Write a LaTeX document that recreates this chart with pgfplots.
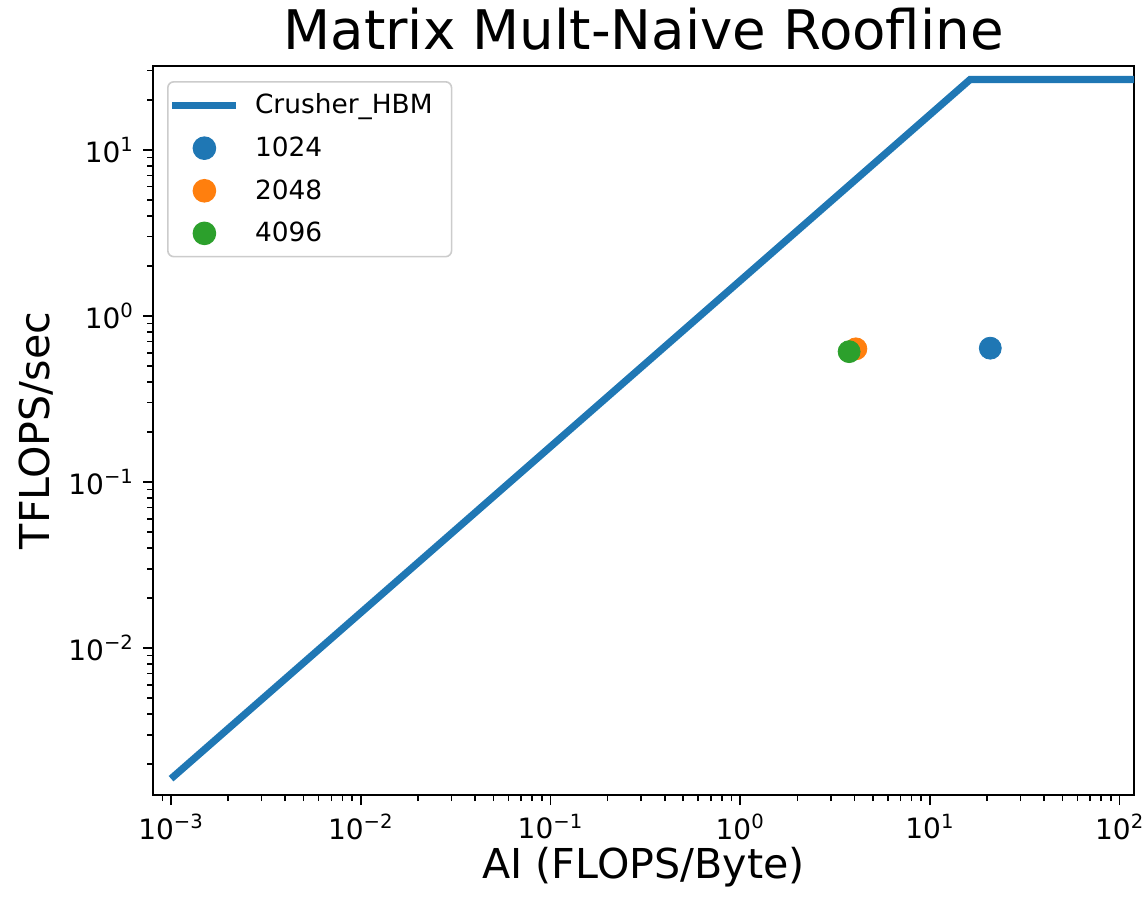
\documentclass[border=0pt]{standalone}
\usepackage{fontspec}
\setmainfont{DejaVu Sans}
\usepackage{pgfplots}
\pgfplotsset{compat=1.18}
\definecolor{tabblue}{HTML}{1F77B4}
\definecolor{taborange}{HTML}{FF7F0E}
\definecolor{tabgreen}{HTML}{2CA02C}
\newcommand{\tpow}[1]{10\textsuperscript{#1}}
\pgfplotsset{
  linelegend/.style={legend image code/.code={\draw[##1] (0pt,0pt) -- (32pt,0pt); \path (37.5pt,0pt);}},
  dotlegend/.style={legend image code/.code={\draw[##1] plot coordinates {(16pt,0pt)}; \path (0pt,0pt) (37.5pt,0pt);}},
}
\begin{document}
\begin{tikzpicture}
\begin{axis}[
  at={(0,0)}, anchor=south west,
  scale only axis, width=490.5pt, height=364.5pt,
  xmode=log, ymode=log,
  xmin=8.03e-4, xmax=119, ymin=1.3e-3, ymax=32,
  xtick={1e-3,1e-2,1e-1,1,10,100},
  xticklabels={\tpow{−3},\tpow{−2},\tpow{−1},\tpow{0},\tpow{1},\tpow{2}},
  ytick={1e-2,1e-1,1,10},
  yticklabels={\tpow{−2},\tpow{−1},\tpow{0},\tpow{1}},
  minor xtick={8e-4,9e-4,2e-3,3e-3,4e-3,5e-3,6e-3,7e-3,8e-3,9e-3,2e-2,3e-2,4e-2,5e-2,6e-2,7e-2,8e-2,9e-2,0.2,0.3,0.4,0.5,0.6,0.7,0.8,0.9,2,3,4,5,6,7,8,9,20,30,40,50,60,70,80,90},
  minor ytick={2e-3,3e-3,4e-3,5e-3,6e-3,7e-3,8e-3,9e-3,2e-2,3e-2,4e-2,5e-2,6e-2,7e-2,8e-2,9e-2,0.2,0.3,0.4,0.5,0.6,0.7,0.8,0.9,2,3,4,5,6,7,8,9,20,30},
  tick align=outside, tick pos=left,
  major tick length=5pt, minor tick length=3pt,
  every tick/.style={black, line width=0.8pt},
  axis line style={line width=0.9pt},
  ticklabel style={font=\fontsize{14}{16}\selectfont},
  xticklabel style={yshift=-1pt},
  yticklabel style={xshift=-1pt},
  legend cell align=left,
  legend style={at={(0.0143,0.9794)}, anchor=north west,
    draw=black!20, rounded corners=3pt, line width=0.8pt, fill=white,
    font=\fontsize{13.2}{16}\selectfont,
    inner xsep=0.5pt, inner ysep=4pt, row sep=6pt},
  clip=true,
]
\addplot[tabblue, line width=3.6pt, line cap=butt, line join=miter, linelegend] coordinates {
  (1e-3,1.63e-3) (16.26,26.5) (300,26.5)
};
\addlegendentry{Crusher\_HBM\hspace*{7pt}\mbox{}}
\addplot[only marks, mark=*, mark size=5.5pt, tabblue, mark options={fill=tabblue, draw=tabblue}, dotlegend] coordinates {(20.8,0.639)};
\addlegendentry{1024}
\addplot[only marks, mark=*, mark size=5.5pt, taborange, mark options={fill=taborange, draw=taborange}, dotlegend] coordinates {(4.07,0.633)};
\addlegendentry{2048}
\addplot[only marks, mark=*, mark size=5.5pt, tabgreen, mark options={fill=tabgreen, draw=tabgreen}, dotlegend] coordinates {(3.75,0.609)};
\addlegendentry{4096}
\end{axis}
\node[anchor=base, font=\fontsize{27.3}{32}\selectfont] at (245.25pt,372.5pt) {Matrix Mult-Naive Roofline};
\node[anchor=base, font=\fontsize{20.6}{24}\selectfont] at (245.25pt,-41.5pt) {AI (FLOPS/Byte)};
\node[anchor=base, rotate=90, font=\fontsize{20.6}{24}\selectfont] at (-51.5pt,182.25pt) {TFLOPS/sec};
\pgfresetboundingbox
\path[use as bounding box] (-76.5pt,-50.5pt) rectangle (496pt,397.5pt);
\end{tikzpicture}
\end{document}
